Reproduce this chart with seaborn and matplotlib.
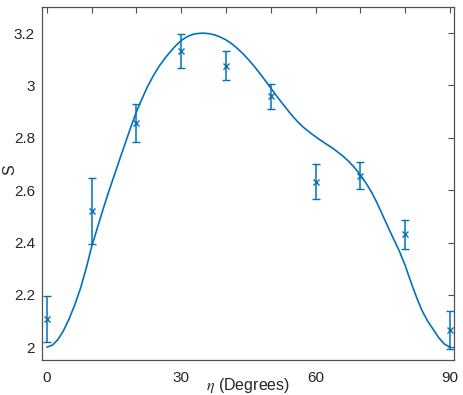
import matplotlib
matplotlib.use("Agg")
import matplotlib.pyplot as plt
import seaborn as sns
import pandas as pd

# Measured points
eta_data = [0, 10, 20, 30, 40, 50, 60, 70, 80, 90]
S_data = [2.108, 2.521, 2.856, 3.130, 3.076, 2.958, 2.632, 2.656, 2.432, 2.066]
S_err = [0.088, 0.125, 0.072, 0.065, 0.056, 0.049, 0.067, 0.053, 0.055, 0.073]

# Theory curve
eta_curve = [0, 1.25, 2.5, 3.75, 5, 6.25, 7.5, 8.75, 10, 11.25, 12.5, 13.75, 15,
             16.25, 17.5, 18.75, 20, 21.25, 22.5, 23.75, 25, 26.25, 27.5, 28.75,
             30, 31.25, 32.5, 33.75, 35, 36.25, 37.5, 38.75, 40, 41.25, 42.5,
             43.75, 45, 46.25, 47.5, 48.75, 50, 51.25, 52.5, 53.75, 55, 56.25,
             57.5, 58.75, 60, 61.25, 62.5, 63.75, 65, 66.25, 67.5, 68.75, 70,
             71.25, 72.5, 73.75, 75, 76.25, 77.5, 78.75, 80, 81.25, 82.5, 83.75,
             85, 86.25, 87.5, 88.75, 90]
S_curve = [2.000, 2.008, 2.030, 2.065, 2.110, 2.163, 2.225, 2.300, 2.385, 2.455,
           2.525, 2.592, 2.655, 2.718, 2.780, 2.842, 2.900, 2.950, 2.997, 3.037,
           3.072, 3.102, 3.128, 3.152, 3.172, 3.186, 3.195, 3.199, 3.200, 3.198,
           3.193, 3.185, 3.174, 3.160, 3.142, 3.122, 3.099, 3.074, 3.047, 3.019,
           2.990, 2.961, 2.933, 2.906, 2.880, 2.857, 2.837, 2.820, 2.804, 2.789,
           2.775, 2.761, 2.745, 2.728, 2.708, 2.685, 2.658, 2.627, 2.592, 2.550,
           2.503, 2.456, 2.410, 2.365, 2.312, 2.250, 2.192, 2.140, 2.100, 2.068,
           2.036, 2.012, 2.000]

x_ticks = [0, 10, 20, 30, 40, 50, 60, 70, 80, 90]
x_ticklabels = ["0", "", "", "30", "", "", "60", "", "", "90"]
y_ticks = [2.0, 2.2, 2.4, 2.6, 2.8, 3.0, 3.2]
y_ticklabels = ["2", "2.2", "2.4", "2.6", "2.8", "3", "3.2"]

sns.set_theme(style="white")
plt.rcParams["font.family"] = ["Liberation Sans", "DejaVu Sans"]
plt.rcParams["mathtext.fontset"] = "stix"

blue = "#0072BD"
axc = "#505050"

fig = plt.figure(figsize=(4.63, 3.95), dpi=100)
ax = fig.add_axes([0.0907, 0.0886, 0.8899, 0.8937])

curve_df = pd.DataFrame({"eta": eta_curve, "S": S_curve})
sns.lineplot(data=curve_df, x="eta", y="S", ax=ax, color=blue, linewidth=1.2,
             sort=False, estimator=None)

ax.errorbar(eta_data, S_data, yerr=S_err, fmt="x", color=blue, markersize=5,
            mew=1.0, elinewidth=1.1, capsize=3, capthick=1.0)

ax.set_xlim(-1.1, 90.9)
ax.set_ylim(1.951, 3.30)
ax.set_xticks(x_ticks)
ax.set_xticklabels(x_ticklabels)
ax.set_yticks(y_ticks)
ax.set_yticklabels(y_ticklabels)

ax.tick_params(axis="both", direction="in", length=4, width=0.8, color=axc,
               labelsize=11, labelcolor="#262626", top=True, right=True, pad=5)
ax.tick_params(axis="x", pad=8)
for s in ax.spines.values():
    s.set_color(axc)
    s.set_linewidth(0.9)

ax.set_xlabel(r"$\eta$ (Degrees)", fontsize=11.5, color="#262626")
ax.xaxis.set_label_coords(0.5, -0.046)
ax.set_ylabel("S", fontsize=11.5, color="#262626")
ax.yaxis.set_label_coords(-0.060, 0.54)

fig.savefig("out.png", dpi=100)
